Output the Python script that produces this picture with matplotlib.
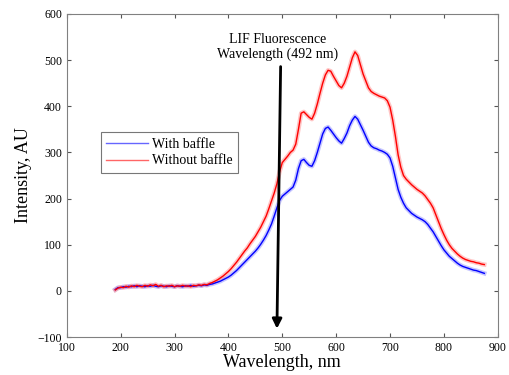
import matplotlib
matplotlib.use("Agg")
import matplotlib.pyplot as plt
import numpy as np

plt.rcParams['font.family'] = ['Liberation Serif', 'DejaVu Serif']

wavelength = list(range(190, 880, 5))

without_baffle = [2, 6, 8, 7, 10, 8, 11, 9, 12, 10, 9, 12, 10, 13, 11, 14, 10, 12, 9, 11,
                  10, 12, 9, 11, 10, 12, 10, 11, 9, 12, 11, 13, 12, 14, 13, 16, 18, 21, 24, 28,
                  32, 37, 42, 48, 55, 62, 70, 78, 86, 93, 102, 110, 118, 128, 138, 150, 162, 178, 195, 212,
                  232, 258, 278, 285, 292, 300, 305, 318, 350, 385, 388, 382, 376, 372, 385, 405, 428, 450, 468, 478,
                  476, 465, 455, 445, 440, 450, 465, 485, 505, 518, 510, 490, 470, 455, 440, 432, 428, 425, 422, 420,
                  418, 412, 398, 370, 335, 295, 268, 250, 242, 236, 230, 225, 220, 216, 212, 206, 198, 190, 180, 165,
                  150, 135, 122, 110, 100, 92, 86, 80, 75, 71, 68, 66, 64, 63, 61, 60, 58, 57]

with_baffle = [3, 7, 7, 9, 8, 10, 9, 11, 9, 11, 10, 9, 11, 10, 12, 10, 9, 11, 10, 9,
               11, 10, 9, 11, 10, 9, 11, 10, 12, 10, 11, 12, 11, 13, 12, 14, 15, 17, 19, 21,
               24, 27, 30, 34, 39, 44, 50, 56, 62, 68, 74, 80, 86, 93, 101, 110, 120, 132, 145, 162,
               180, 196, 205, 210, 215, 220, 225, 240, 265, 282, 285, 278, 272, 270, 282, 300, 320, 340, 352, 355,
               348, 340, 332, 325, 320, 330, 342, 358, 370, 378, 372, 360, 348, 335, 322, 314, 310, 308, 305, 303,
               300, 296, 288, 270, 245, 220, 203, 190, 180, 174, 168, 164, 160, 157, 154, 150, 144, 136, 128, 118,
               108, 98, 89, 82, 75, 70, 65, 60, 56, 53, 51, 49, 47, 45, 44, 42, 40, 38]

fig = plt.figure(figsize=(5.1, 3.75), dpi=100)
ax = fig.add_axes([0.131, 0.1013, 0.845, 0.8614])

ax.plot(wavelength, with_baffle, color='#8080ff', lw=3.2, alpha=0.45)
ax.plot(wavelength, without_baffle, color='#ff8080', lw=3.2, alpha=0.45)
l1, = ax.plot(wavelength, with_baffle, color='#0000ff', lw=1.0, label='With baffle')
l2, = ax.plot(wavelength, without_baffle, color='#ff0000', lw=1.0, label='Without baffle')

ax.set_xlim(100, 900)
ax.set_ylim(-100, 600)
ax.set_xticks(range(100, 901, 100))
ax.set_yticks(range(-100, 601, 100))
ax.tick_params(direction='in', top=True, right=True, labelsize=8.5, length=3, color='#555555')
for s in ax.spines.values():
    s.set_color('#808080')

ax.set_xlabel('Wavelength, nm', fontsize=13, labelpad=0)
ax.set_ylabel('Intensity, AU', fontsize=13, labelpad=4)

ax.annotate('', xy=(490, -88), xytext=(497, 492),
            arrowprops=dict(arrowstyle='-|>', color='black', lw=2, mutation_scale=14))
ax.text(491, 528, 'LIF Fluorescence\nWavelength (492 nm)', ha='center', va='center',
        fontsize=10, linespacing=1.2)

leg = ax.legend(handles=[l1, l2], loc='upper left', bbox_to_anchor=(0.063, 0.655),
                fontsize=10, frameon=True, fancybox=False, edgecolor='#555555',
                handlelength=3, borderpad=0.4, labelspacing=0.25, handletextpad=0.3)
leg.get_frame().set_linewidth(0.8)
for h in leg.get_lines():
    h.set_alpha(0.6)

fig.savefig('out.png', dpi=100)
